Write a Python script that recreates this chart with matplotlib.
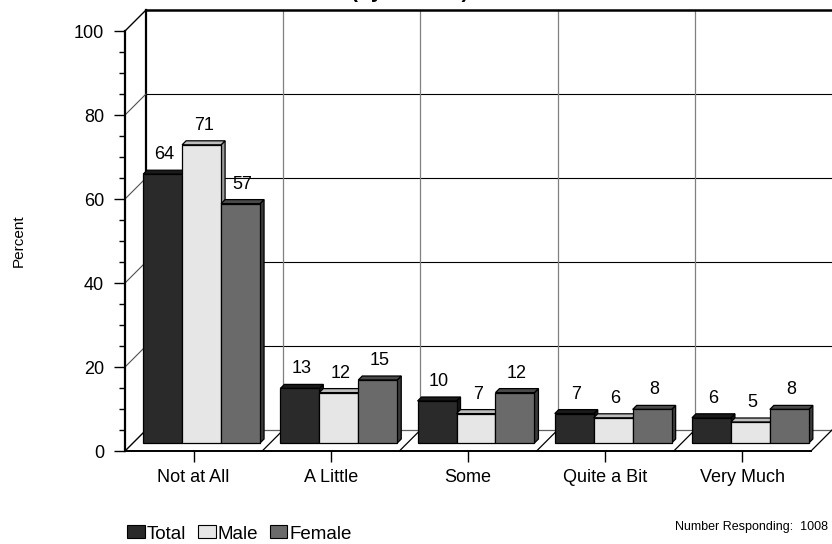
import numpy as np
import matplotlib
matplotlib.use("Agg")
import matplotlib.pyplot as plt
from matplotlib.patches import Polygon, Patch
from matplotlib.transforms import Affine2D, IdentityTransform

plt.rcParams['font.family'] = ['Liberation Sans', 'DejaVu Sans']

categories = ['Not at All', 'A Little', 'Some', 'Quite a Bit', 'Very Much']
series = ['Total', 'Male', 'Female']
total = [64, 13, 10, 7, 6]
male = [71, 12, 7, 6, 5]
female = [57, 15, 12, 8, 8]
values = [total, male, female]

# front / top / side shading for each series
front_cols = ['#2a2a2a', '#e6e6e6', '#6a6a6a']
top_cols = ['#1a1a1a', '#bdbdbd', '#4a4a4a']
side_cols = ['#151515', '#9a9a9a', '#3a3a3a']

WALL = 21    # depth of the box, pixels
BAR_Z = 8    # how far back the bars stand
BAR_D = 4    # bar thickness
BAR_W = 0.284

fig = plt.figure(figsize=(8.32, 5.44), dpi=100)
ax = fig.add_axes([125 / 832, 93 / 544, 686 / 832, 420 / 544])
ax.set_xlim(0, 5)
ax.set_ylim(0, 100)
ax.patch.set_visible(False)
for s in ['top', 'right']:
    ax.spines[s].set_visible(False)
ax.spines['left'].set_linewidth(1.6)
ax.spines['bottom'].set_linewidth(1.4)

back = ax.transData + Affine2D().translate(WALL, WALL)
px = IdentityTransform()


def disp(x, y, d=0):
    p = ax.transData.transform((x, y))
    return (p[0] + d, p[1] + d)


# back wall with grid
for y in [20, 40, 60, 80]:
    ax.plot([0, 5], [y, y], color='black', lw=0.8, transform=back, clip_on=False, zorder=1)
for i in range(1, 5):
    ax.plot([i, i], [0, 100], color='#808080', lw=0.9, transform=back, clip_on=False, zorder=1)
ax.plot([0, 5], [100, 100], color='black', lw=1.8, transform=back, clip_on=False, zorder=1)
ax.plot([0, 0], [0, 100], color='black', lw=1.6, transform=back, clip_on=False, zorder=1)
ax.plot([0, 5], [0, 0], color='#606060', lw=0.9, transform=back, clip_on=False, zorder=1)

# left wall diagonals
for y in range(0, 101, 20):
    a, b = disp(0, y), disp(0, y, WALL)
    c = 'black' if y in (0, 100) else '#505050'
    ax.plot([a[0], b[0]], [a[1], b[1]], color=c, lw=1.0 if y in (0, 100) else 0.8,
            transform=px, clip_on=False, zorder=1)

# floor diagonals
for i in range(1, 6):
    a, b = disp(i, 0), disp(i, 0, WALL)
    ax.plot([a[0], b[0]], [a[1], b[1]], color='black', lw=0.9, transform=px, clip_on=False, zorder=1)

# bars
z = 3
for k, vals in enumerate(values):
    for i, v in enumerate(vals):
        x0 = i + 0.5 + (k - 1.5) * BAR_W
        x1 = x0 + BAR_W
        fl, fr = disp(x0, 0, BAR_Z), disp(x1, 0, BAR_Z)
        tl, tr = disp(x0, v, BAR_Z), disp(x1, v, BAR_Z)
        front = [fl, fr, tr, tl]
        top = [tl, tr, (tr[0] + BAR_D, tr[1] + BAR_D), (tl[0] + BAR_D, tl[1] + BAR_D)]
        side = [fr, tr, (tr[0] + BAR_D, tr[1] + BAR_D), (fr[0] + BAR_D, fr[1] + BAR_D)]
        for pts, col in [(side, side_cols[k]), (top, top_cols[k]), (front, front_cols[k])]:
            ax.add_patch(Polygon(pts, closed=True, facecolor=col, edgecolor='black', lw=0.9,
                                 transform=px, clip_on=False, zorder=z + i * 10))
        ax.text((tl[0] + tr[0]) / 2 + 2, tl[1] + 15, str(v), ha='center', va='baseline',
                fontsize=13, transform=px, zorder=50)
    z += 1

# axes ticks and labels
ax.set_yticks(range(0, 101, 20))
ax.set_yticks(range(0, 101, 5), minor=True)
ax.tick_params(axis='y', which='major', length=8, width=1.0, pad=7, labelsize=13)
ax.tick_params(axis='y', which='minor', length=4.3, width=1.0)
ax.set_xticks(np.arange(5) + 0.5)
ax.set_xticklabels(categories)
ax.tick_params(axis='x', which='major', length=8, width=1.0, pad=5, labelsize=13)
ax.tick_params(axis='x', which='minor', length=0)
ax.set_ylabel('Percent', fontsize=11)
ax.yaxis.set_label_coords(-99 / 686, 0.5)

# second title line, mostly above the top edge
fig.text(410 / 832, 1 + 2 / 544, '(by Gender)', ha='center', va='baseline',
         fontsize=15, fontweight='bold')

handles = [Patch(facecolor=front_cols[k], edgecolor='black', lw=0.8) for k in range(3)]
fig.legend(handles, series, loc='center left', bbox_to_anchor=(127 / 832, 10 / 544),
           ncol=3, frameon=False, fontsize=13.5, handlelength=0.95, handleheight=0.68,
           handletextpad=0.12, columnspacing=0.6, borderpad=0, borderaxespad=0)

fig.text(828 / 832, 17 / 544, 'Number Responding:  1008', ha='right', va='center', fontsize=9)

fig.savefig('out.png', dpi=100)
